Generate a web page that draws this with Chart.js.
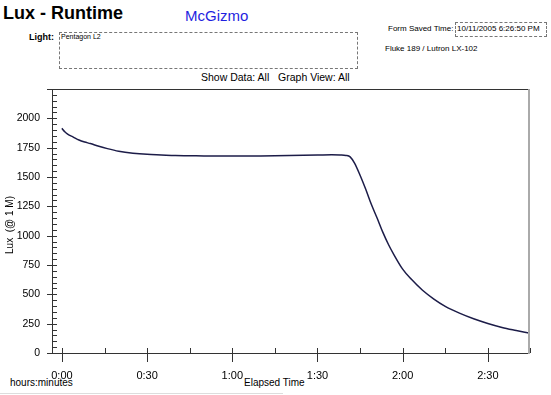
<!DOCTYPE html>
<html>
<head>
<meta charset="utf-8">
<script src="https://cdn.jsdelivr.net/npm/chart.js@4/dist/chart.umd.min.js"></script>
<style>
  body { margin: 0; width: 551px; height: 395px; background: #fff; font-family: "Liberation Sans", Arial, sans-serif; position: relative; overflow: hidden; }
  .t { position: absolute; white-space: nowrap; color: #000; }
  .box { position: absolute; border: 1px dashed #777; }
  #wrap { position: absolute; left: 0; top: 0; width: 551px; height: 395px; }
</style>
</head>
<body>
<div class="t" style="left:3px;top:3px;font-size:18px;font-weight:bold;">Lux - Runtime</div>
<div class="t" style="left:185px;top:7px;font-size:15px;color:#1f1fe0;">McGizmo</div>
<div class="t" style="left:29px;top:32px;font-size:9px;font-weight:bold;">Light:</div>
<div class="box" style="left:59px;top:32px;width:297px;height:35px;"></div>
<div class="t" style="left:61px;top:33px;font-size:7px;">Pentagon L2</div>
<div class="t" style="left:388px;top:24px;font-size:8px;">Form Saved Time:</div>
<div class="box" style="left:455px;top:22px;width:90px;height:13px;"></div>
<div class="t" style="left:457px;top:24px;font-size:8px;">10/11/2005 6:26:50 PM</div>
<div class="t" style="left:385px;top:44px;font-size:8px;">Fluke 189 / Lutron LX-102</div>
<div class="t" style="left:201px;top:71px;font-size:10.5px;">Show Data: All &nbsp;&nbsp;Graph View: All</div>
<div class="t" style="left:10px;top:377px;font-size:10px;">hours:minutes</div>
<div class="t" style="left:244px;top:377px;font-size:10px;">Elapsed Time</div>
<div style="position:absolute;left:0;top:393px;width:283px;height:1px;background:#ddd;"></div>
<div id="wrap"><canvas id="luxChart" width="551" height="395"></canvas></div>
<script>
// elapsed time in minutes, lux readings
const minutes = [0, 0.3, 1, 2, 4, 6, 8, 10, 13, 16, 20, 25, 30, 35, 40, 50, 60, 70, 80, 90, 95, 98, 100, 101.5, 103, 105, 107, 109, 111, 113, 115, 117, 120, 123, 127, 131, 135, 140, 145, 150, 155, 160, 164.5];
const lux = [1915, 1905, 1885, 1865, 1840, 1815, 1798, 1785, 1762, 1742, 1720, 1703, 1693, 1688, 1683, 1680, 1678, 1680, 1683, 1687, 1690, 1688, 1684, 1672, 1620, 1515, 1395, 1265, 1150, 1030, 925, 835, 715, 630, 535, 460, 398, 340, 292, 252, 218, 192, 170];
const timeTicks = [0, 30, 60, 90, 120, 150];
const luxTicks = [0, 250, 500, 750, 1000, 1250, 1500, 1750, 2000];

const points = minutes.map((m, i) => ({ x: m, y: lux[i] }));

function fmtTime(v) {
  const h = Math.floor(v / 60);
  const m = Math.round(v % 60);
  return h + ':' + (m < 10 ? '0' : '') + m;
}

// frame, minor ticks and y title
const frame = {
  id: 'frame',
  afterDraw(chart) {
    const ctx = chart.ctx;
    const a = chart.chartArea;
    const xs = chart.scales.x, ys = chart.scales.y;
    ctx.save();
    ctx.strokeStyle = '#333';
    ctx.lineWidth = 1;
    ctx.beginPath();
    ctx.moveTo(a.left, a.top + 0.5); ctx.lineTo(a.right, a.top + 0.5);
    ctx.moveTo(a.left + 0.5, a.top); ctx.lineTo(a.left + 0.5, a.bottom);
    ctx.moveTo(a.left, a.bottom + 0.5); ctx.lineTo(a.right, a.bottom + 0.5);
    // y ticks: minor every 50 inward, major crossing
    for (let v = 0; v <= 2250; v += 50) {
      const y = Math.round(ys.getPixelForValue(v)) + 0.5;
      const major = v % 250 === 0;
      ctx.moveTo(major ? a.left - 5 : a.left, y);
      ctx.lineTo(a.left + 5, y);
    }
    // x ticks
    for (let v = 0; v <= 165; v += 15) {
      const x = Math.round(xs.getPixelForValue(v)) + 0.5;
      const major = v % 30 === 0;
      ctx.moveTo(x, a.bottom - 5);
      ctx.lineTo(x, major ? a.bottom + 9 : a.bottom);
    }
    ctx.stroke();
    ctx.strokeStyle = '#aaa';
    ctx.lineWidth = 2;
    ctx.beginPath();
    ctx.moveTo(a.right, a.top); ctx.lineTo(a.right, a.bottom + 1);
    ctx.stroke();
    ctx.translate(10, 225);
    ctx.rotate(-Math.PI / 2);
    ctx.fillStyle = '#000';
    ctx.font = '10px "Liberation Sans", Arial, sans-serif';
    ctx.textAlign = 'center';
    ctx.textBaseline = 'middle';
    ctx.fillText('Lux  (@ 1 M)', 0, 0);
    ctx.restore();
  }
};

new Chart(document.getElementById('luxChart'), {
  type: 'line',
  data: {
    datasets: [{
      data: points,
      borderColor: '#1c1c48',
      borderWidth: 1.5,
      pointRadius: 0,
      cubicInterpolationMode: 'monotone',
      fill: false
    }]
  },
  options: {
    responsive: false,
    animation: false,
    layout: { padding: { left: 0, top: 89, right: 22, bottom: 0 } },
    plugins: { legend: { display: false }, tooltip: { enabled: false } },
    scales: {
      x: {
        type: 'linear',
        min: -3.5,
        max: 164.5,
        afterBuildTicks: s => { s.ticks = timeTicks.map(v => ({ value: v })); },
        afterFit: s => { s.height = 42; },
        grid: { display: false },
        border: { display: false },
        ticks: {
          color: '#000',
          font: { family: '"Liberation Sans", Arial, sans-serif', size: 11 },
          padding: 8,
          maxRotation: 0,
          callback: v => fmtTime(v)
        }
      },
      y: {
        min: 0,
        max: 2250,
        afterBuildTicks: s => { s.ticks = luxTicks.map(v => ({ value: v })); },
        afterFit: s => { s.width = 52; },
        grid: { display: false },
        border: { display: false },
        ticks: {
          color: '#000',
          font: { family: '"Liberation Sans", Arial, sans-serif', size: 10.5 },
          padding: 4,
          callback: v => String(v)
        }
      }
    }
  },
  plugins: [frame]
});
</script>
</body>
</html>
